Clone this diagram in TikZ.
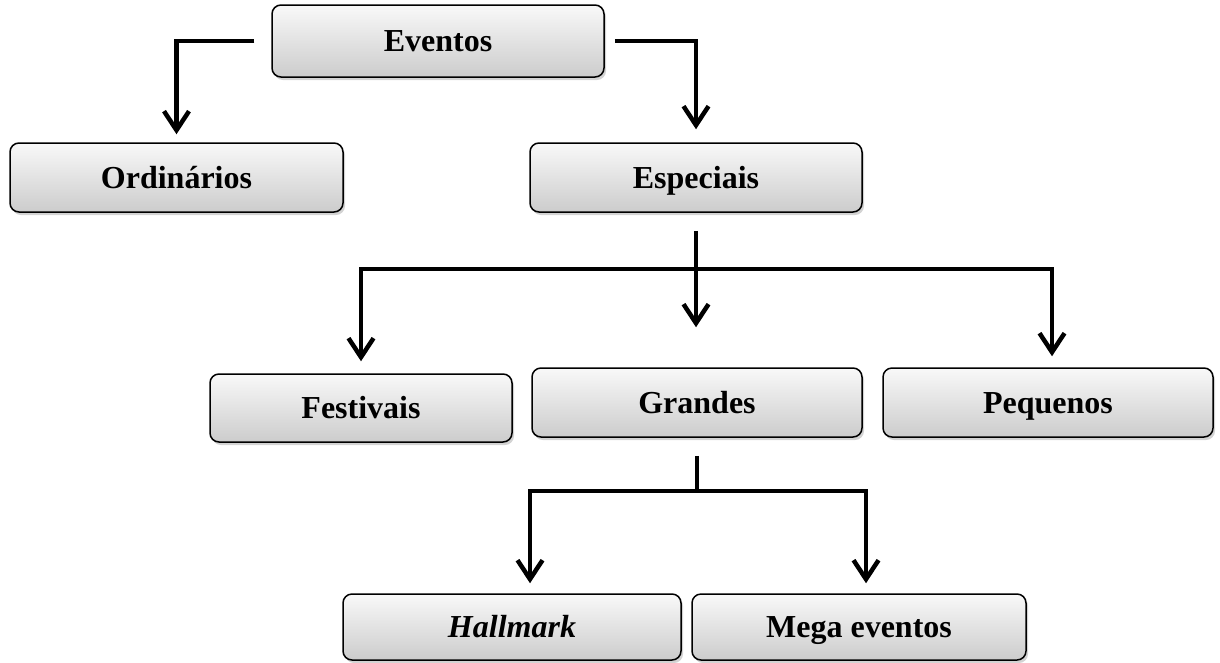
\documentclass[tikz,border=0pt]{standalone}
\usepackage{fontspec}
\setmainfont{Liberation Serif}
\usetikzlibrary{positioning,shadows,arrows.meta}
\tikzstyle{caixa}=[draw,line width=1.5pt,rounded corners=9pt,
  top color=gray!5,bottom color=gray!40,
  drop shadow={shadow xshift=2pt,shadow yshift=-3pt,opacity=0.35},
  text height=21pt,text depth=0pt,
  font=\fontsize{32}{36}\selectfont\bfseries]
\tikzstyle{seta}=[-{Straight Barb[length=19pt,width=25pt]}]
\newcommand{\newCaixa}[5]{\node[caixa,minimum width=#3,minimum height=#4](#1) at (#5) {#2};}
\newcommand{\newLigacao}[4]{\draw[#4] (#1) #3 (#2);}
\begin{document}
\begin{tikzpicture}[x=1pt,y=1pt,line width=4.5pt]
  \useasboundingbox (0,0) rectangle (1220,-662);
  \newCaixa{ev}{Eventos}{332pt}{72pt}{438,-41}
  \newCaixa{ord}{Ordinários}{333pt}{69pt}{176.5,-177.5}
  \newCaixa{esp}{Especiais}{332pt}{69pt}{696,-177.5}
  \newCaixa{fest}{Festivais}{302pt}{68pt}{361,-408}
  \newCaixa{gr}{Grandes}{330pt}{69pt}{697,-402.5}
  \newCaixa{peq}{Pequenos}{330pt}{69pt}{1048,-402.5}
  \newCaixa{hall}{\textit{Hallmark}}{338pt}{66pt}{512,-627}
  \newCaixa{mega}{Mega eventos}{334pt}{66pt}{859,-627}
  % ramos
  \coordinate[below=56pt of esp.south] (br1);
  \coordinate[below=53pt of gr.south] (br2);
  \newLigacao{ev.west}{ord.north}{-|}{seta,shorten <=17pt,shorten >=8pt}
  \newLigacao{ev.east}{esp.north}{-|}{seta,shorten <=10pt,shorten >=13pt}
  \newLigacao{esp.south}{esp.south |- gr.north}{--}{seta,shorten <=18pt,shorten >=40pt}
  \newLigacao{br1}{fest.north}{-|}{seta,shorten >=12pt}
  \newLigacao{br1}{[xshift=4pt]peq.north}{-|}{seta,shorten >=11pt}
  \newLigacao{gr.south}{br2}{--}{shorten <=18pt}
  \newLigacao{br2}{[xshift=18pt]hall.north}{-|}{seta,shorten >=10pt}
  \newLigacao{br2}{[xshift=7pt]mega.north}{-|}{seta,shorten >=10pt}
\end{tikzpicture}
\end{document}
